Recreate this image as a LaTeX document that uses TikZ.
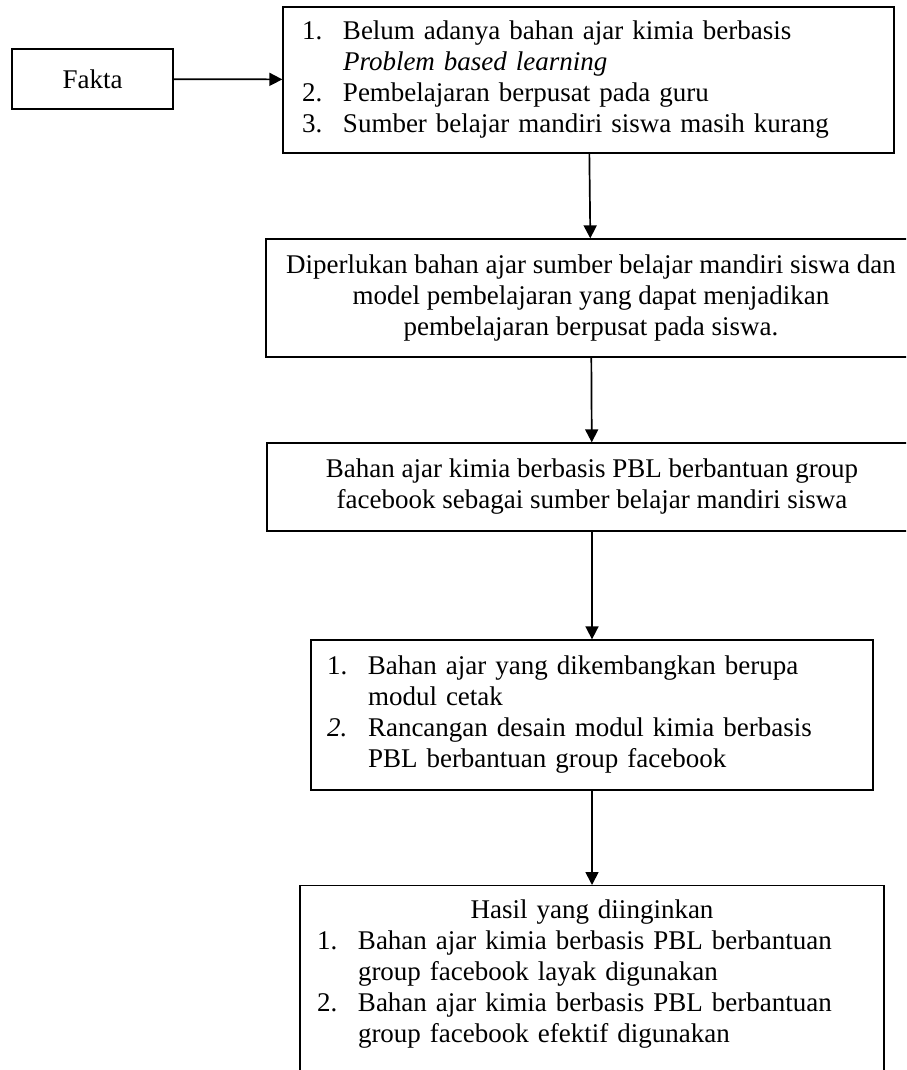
\documentclass[tikz,border=0pt]{standalone}
\usepackage{fontspec}
\setmainfont{Liberation Serif}
\usepackage{tikz}
\usetikzlibrary{positioning}
\usetikzlibrary{arrows.meta}
\newcommand{\itemNo}[2]{\makebox[20.5pt][l]{#1}#2}
\newcommand{\itemCont}[1]{\hspace*{20.5pt}#1}
\tikzset{
    flowBox/.style={draw, line width=0.65pt, inner sep=0pt, align=center,
        font=\fontsize{13.5}{15.5}\selectfont},
    listBox/.style={flowBox, align=left}
}
\tikzset{
    flowArrow/.style={line width=0.85pt, -{Triangle[length=6.5pt,width=6.5pt]}}
}

\begin{document}
\begin{tikzpicture}[x=0.5pt,y=-0.5pt]
        \useasboundingbox (0,0) rectangle (906,1070);
        \clip (0,0) rectangle (906,1070);
        \node[flowBox, minimum width=80.5pt, minimum height=30pt] (fakta) at (92.5,79) {Fakta};
        \node[listBox, text width=286.5pt, inner xsep=9.5pt, minimum height=73pt] (masalah) at (588.5,80) {
            \itemNo{1.}{Belum adanya bahan ajar kimia berbasis}\\
            \itemCont{\textit{Problem based learning}}\\
            \itemNo{2.}{Pembelajaran berpusat pada guru}\\
            \itemNo{3.}{Sumber belajar mandiri siswa masih kurang}};
        \node[flowBox, minimum width=325pt, minimum height=59pt] (kebutuhan) at (591,298) {
            Diperlukan bahan ajar sumber belajar mandiri siswa dan\\
            model pembelajaran yang dapat menjadikan\\
            pembelajaran berpusat pada siswa.};
        \node[flowBox, minimum width=325pt, minimum height=44pt] (solusi) at (592,487) {
            Bahan ajar kimia berbasis PBL berbantuan group\\
            facebook sebagai sumber belajar mandiri siswa};
        \node[listBox, text width=265pt, inner xsep=8pt, minimum height=75pt] (rancangan) at (592,715) {
            \itemNo{1.}{Bahan ajar yang dikembangkan berupa}\\
            \itemCont{modul cetak}\\
            \itemNo{\textit{2.}}{Rancangan desain modul kimia berbasis}\\
            \itemCont{PBL berbantuan group facebook}};
        % box is cut at the bottom of the page
        \node[listBox, anchor=north, text width=275pt, inner xsep=8.5pt, inner ysep=7pt] (hasil) at (592,885) {
            \makebox[275pt]{Hasil yang diinginkan}\\
            \itemNo{1.}{Bahan ajar kimia berbasis PBL berbantuan}\\
            \itemCont{group facebook layak digunakan}\\
            \itemNo{2.}{Bahan ajar kimia berbasis PBL berbantuan}\\
            \itemCont{group facebook efektif digunakan}\\[30pt]
            \mbox{}};
        \draw[flowArrow] (fakta) -- (masalah);
        \draw[flowArrow] (masalah) -- (kebutuhan);
        \draw[flowArrow] (kebutuhan) -- (solusi);
        \draw[flowArrow] (solusi) -- (rancangan);
        \draw[flowArrow] (rancangan) -- (hasil);
\end{tikzpicture}
\end{document}
